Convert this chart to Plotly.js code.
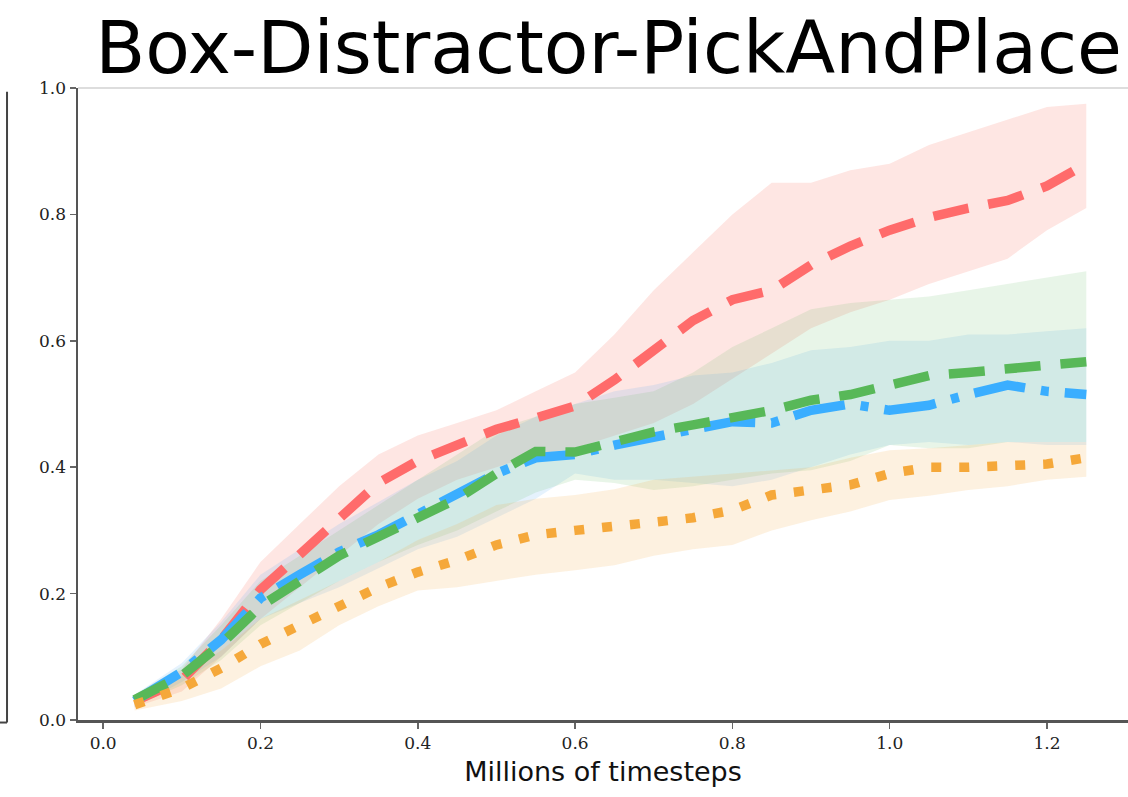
<!DOCTYPE html>
<html><head><meta charset="utf-8">
<script src="https://cdn.plot.ly/plotly-3.0.1.min.js"></script>
<style>html,body{margin:0;padding:0;background:#fff;}#chart{width:1128px;height:797px;}</style>
</head><body><div id="chart"></div>
<script>
const steps = [0.04,0.1,0.15,0.2,0.25,0.3,0.35,0.4,0.45,0.5,0.55,0.6,0.65,0.7,0.75,0.8,0.85,0.9,0.95,1.0,1.05,1.1,1.15,1.2,1.25];

const redMean  = [0.03,0.063,0.127,0.206,0.262,0.32,0.375,0.41,0.435,0.46,0.478,0.497,0.538,0.585,0.632,0.665,0.68,0.72,0.75,0.775,0.795,0.81,0.822,0.845,0.88];
const redUpper = [0.04,0.08,0.16,0.25,0.31,0.37,0.42,0.45,0.47,0.49,0.52,0.55,0.61,0.68,0.74,0.80,0.85,0.85,0.87,0.88,0.91,0.93,0.95,0.97,0.975];
const redLower = [0.02,0.045,0.10,0.16,0.21,0.26,0.31,0.35,0.38,0.40,0.42,0.43,0.45,0.47,0.50,0.54,0.58,0.62,0.645,0.665,0.69,0.71,0.73,0.775,0.81];

const blueMean  = [0.03,0.076,0.127,0.193,0.23,0.266,0.293,0.324,0.356,0.39,0.415,0.42,0.435,0.446,0.46,0.472,0.47,0.49,0.50,0.49,0.498,0.515,0.53,0.52,0.515];
const blueUpper = [0.04,0.09,0.155,0.23,0.27,0.31,0.345,0.38,0.41,0.45,0.48,0.50,0.52,0.53,0.545,0.55,0.565,0.585,0.59,0.60,0.60,0.61,0.61,0.615,0.62];
const blueLower = [0.02,0.06,0.10,0.16,0.185,0.21,0.24,0.27,0.29,0.32,0.35,0.39,0.38,0.38,0.375,0.37,0.38,0.40,0.42,0.435,0.44,0.435,0.44,0.435,0.435];

const greenMean  = [0.032,0.07,0.12,0.18,0.22,0.26,0.29,0.32,0.35,0.39,0.425,0.424,0.44,0.456,0.467,0.478,0.49,0.506,0.515,0.53,0.545,0.55,0.555,0.56,0.567];
const greenUpper = [0.04,0.085,0.15,0.22,0.26,0.30,0.34,0.38,0.42,0.46,0.48,0.50,0.51,0.52,0.55,0.59,0.62,0.65,0.66,0.665,0.67,0.68,0.69,0.70,0.71];
const greenLower = [0.022,0.055,0.095,0.15,0.185,0.22,0.25,0.277,0.30,0.33,0.36,0.38,0.375,0.364,0.37,0.38,0.39,0.395,0.41,0.435,0.43,0.43,0.44,0.44,0.44];

const orangeMean  = [0.024,0.05,0.082,0.12,0.15,0.18,0.21,0.234,0.253,0.277,0.293,0.30,0.305,0.313,0.32,0.332,0.356,0.364,0.372,0.39,0.40,0.40,0.402,0.405,0.415];
const orangeUpper = [0.035,0.07,0.11,0.16,0.19,0.22,0.25,0.285,0.31,0.34,0.35,0.356,0.365,0.38,0.385,0.39,0.395,0.40,0.415,0.427,0.43,0.435,0.44,0.44,0.44];
const orangeLower = [0.015,0.03,0.05,0.085,0.11,0.15,0.18,0.205,0.21,0.22,0.23,0.237,0.245,0.26,0.27,0.277,0.30,0.316,0.33,0.348,0.355,0.364,0.37,0.38,0.385];

const xTickVals = [0.0,0.2,0.4,0.6,0.8,1.0,1.2];
const xTickText = ['0.0','0.2','0.4','0.6','0.8','1.0','1.2'];
const yTickVals = [0.0,0.2,0.4,0.6,0.8,1.0];
const yTickText = ['0.0','0.2','0.4','0.6','0.8','1.0'];

const series = [
  {mean: redMean, up: redUpper, lo: redLower, color: '#ff6b6b', fill: 'rgba(250,128,114,0.2)', dash: '36px,20px'},
  {mean: blueMean, up: blueUpper, lo: blueLower, color: '#3aaeff', fill: 'rgba(80,170,240,0.15)', dash: '52px,16px,8px,16px'},
  {mean: greenMean, up: greenUpper, lo: greenLower, color: '#58b858', fill: 'rgba(100,190,100,0.15)', dash: '36px,20px'},
  {mean: orangeMean, up: orangeUpper, lo: orangeLower, color: '#f5a83a', fill: 'rgba(245,170,70,0.17)', dash: '10px,18px'}
];

const traces = [];
series.forEach(s => {
  traces.push({x: steps, y: s.lo, mode: 'lines', line: {width: 0, color: s.fill}, hoverinfo: 'skip', showlegend: false});
  traces.push({x: steps, y: s.up, mode: 'lines', line: {width: 0, color: s.fill}, fill: 'tonexty', fillcolor: s.fill, hoverinfo: 'skip', showlegend: false});
});
series.forEach(s => {
  traces.push({x: steps, y: s.mean, mode: 'lines', line: {width: 9.5, color: s.color, dash: s.dash}, showlegend: false});
});

const layout = {
  width: 1128, height: 797,
  margin: {l: 78, r: 0, t: 88, b: 77},
  paper_bgcolor: '#fff', plot_bgcolor: '#fff',
  showlegend: false,
  title: {text: 'Box-Distractor-PickAndPlace', font: {family: 'DejaVu Sans', size: 73, color: '#000'},
          x: 0.5395, xanchor: 'center', y: 0.94, yanchor: 'middle'},
  xaxis: {range: [-0.032, 1.303], tickvals: xTickVals, ticktext: xTickText, showgrid: false, zeroline: false,
          showline: true, linecolor: '#555', linewidth: 2.5, ticks: 'outside', ticklen: 6, tickcolor: '#666', tickwidth: 1.5,
          tickfont: {family: 'DejaVu Serif', size: 17, color: '#222'},
          title: {text: 'Millions of timesteps', font: {family: 'DejaVu Sans', size: 27, color: '#111'}, standoff: 10}},
  yaxis: {range: [0, 1], tickvals: yTickVals, ticktext: yTickText, showgrid: false, zeroline: false,
          showline: true, linecolor: '#555', linewidth: 2.5, ticks: 'outside', ticklen: 6, tickcolor: '#666', tickwidth: 1.5,
          tickfont: {family: 'DejaVu Serif', size: 17, color: '#222'}},
  shapes: [
    {type: 'line', xref: 'paper', yref: 'paper', x0: 0, x1: 1, y0: 1, y1: 1, line: {color: '#ddd', width: 2}},
    {type: 'line', xref: 'paper', yref: 'paper', x0: -0.0676, x1: -0.0676, y0: -0.004, y1: 0.994, line: {color: '#444', width: 2}},
    {type: 'line', xref: 'paper', yref: 'paper', x0: -0.08, x1: -0.0676, y0: -0.004, y1: -0.004, line: {color: '#444', width: 2}}
  ]
};

Plotly.newPlot('chart', traces, layout, {displayModeBar: false, staticPlot: true});
</script>
</body></html>
